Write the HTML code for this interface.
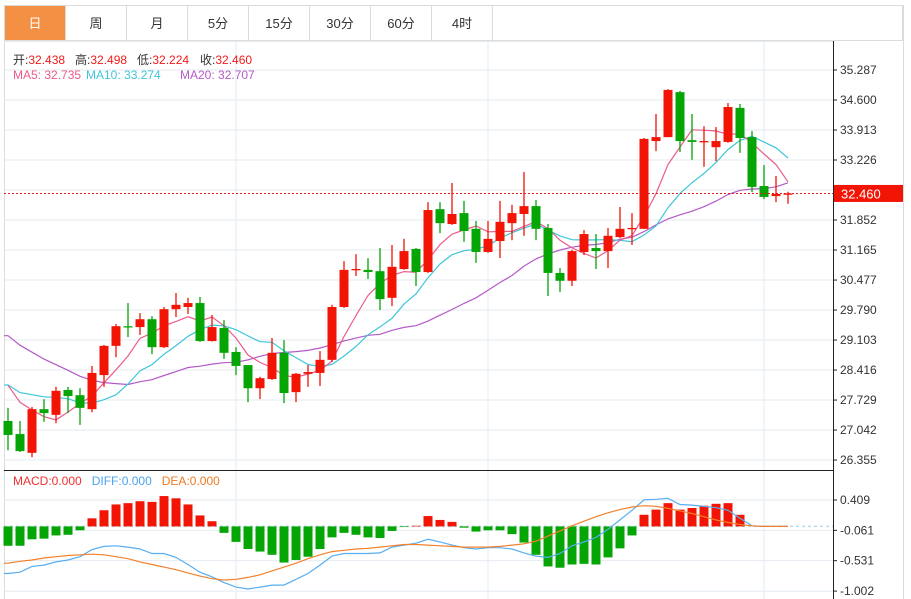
<!DOCTYPE html>
<html><head><meta charset="utf-8"><style>
html,body{margin:0;padding:0;background:#fff;width:911px;height:599px;overflow:hidden}
body{font-family:"Liberation Sans","Noto Sans CJK SC",sans-serif;position:relative}
.tabs{position:absolute;left:4px;top:5px;width:899px;height:36px;border:1px solid #dcdcdc;box-sizing:border-box;display:flex}
.tab{width:61px;height:34px;border-right:1px solid #dcdcdc;box-sizing:border-box;text-align:center;line-height:36px;font-size:13px;color:#333}
.tab.on{background:#f39043;color:#fff}
.info{position:absolute;font-size:12px;white-space:nowrap}
.r{color:#f01c1c}
</style></head><body>
<div class="tabs">
<div class="tab on">日</div>
<div class="tab">周</div>
<div class="tab">月</div>
<div class="tab">5分</div>
<div class="tab">15分</div>
<div class="tab">30分</div>
<div class="tab">60分</div>
<div class="tab">4时</div>
</div>
<svg id="c" width="911" height="599" style="position:absolute;left:0;top:0"></svg>
<div>
<div class="info" style="top:51px;left:13px;color:#333">开:<span class="r">32.438</span></div>
<div class="info" style="top:51px;left:75px;color:#333">高:<span class="r">32.498</span></div>
<div class="info" style="top:51px;left:137px;color:#333">低:<span class="r">32.224</span></div>
<div class="info" style="top:51px;left:200px;color:#333">收:<span class="r">32.460</span></div>
</div>
<div>
<div class="info" style="top:68px;left:13px;color:#ec5a8c">MA5: 32.735</div>
<div class="info" style="top:68px;left:86px;color:#3ec6da">MA10: 33.274</div>
<div class="info" style="top:68px;left:180px;color:#b45ac8">MA20: 32.707</div>
</div>
<div class="info" style="top:474px;left:13px;font-size:12px"><span style="color:#f03030">MACD:0.000</span>&nbsp;&nbsp;&nbsp;<span style="color:#4aa3f0">DIFF:0.000</span>&nbsp;&nbsp;&nbsp;<span style="color:#f07a20">DEA:0.000</span></div>
<script>
const opens=[27.25,26.95,26.52,27.52,27.39,27.96,27.84,27.52,28.30,28.97,29.42,29.40,29.58,28.94,29.81,29.86,29.95,29.08,29.38,28.83,28.53,28.00,28.21,28.81,27.91,28.33,28.35,28.65,29.86,30.71,30.71,30.68,30.07,30.73,31.19,30.66,32.10,31.76,32.01,31.65,31.12,31.37,31.78,31.99,32.17,31.67,30.64,30.46,31.12,31.21,31.14,31.46,31.65,31.65,33.66,33.75,34.78,33.68,33.64,33.52,33.64,34.42,33.75,32.63,32.40,32.438];
const highs=[27.55,27.25,27.57,27.75,28.03,28.03,28.00,28.51,28.99,29.47,29.95,29.72,29.65,29.86,30.18,30.07,30.09,29.68,29.56,28.94,28.53,28.26,29.15,29.10,28.35,28.53,28.85,29.91,30.91,31.07,30.98,31.21,31.28,31.42,31.21,32.26,32.26,32.70,32.29,31.83,31.83,32.29,32.20,32.95,32.31,31.76,30.75,31.17,31.62,31.53,31.67,32.15,32.01,33.73,34.28,34.85,34.81,34.28,34.00,33.98,34.53,34.51,33.89,33.11,32.86,32.498];
const lows=[26.58,26.54,26.42,27.23,27.20,27.43,27.16,27.45,28.03,28.71,29.17,29.22,28.78,28.92,29.63,29.70,29.06,29.07,28.67,28.30,27.68,27.75,28.19,27.66,27.68,28.03,28.05,28.60,29.84,30.57,30.50,29.79,29.88,30.71,30.34,30.64,31.55,31.74,31.35,30.87,31.10,30.98,31.39,31.49,31.39,30.11,30.20,30.34,31.05,30.73,30.75,31.44,31.28,31.65,33.43,33.75,33.41,33.23,33.07,33.20,33.62,33.39,32.49,32.33,32.26,32.224];
const closes=[26.93,26.56,27.52,27.43,27.94,27.82,27.55,28.35,28.97,29.42,29.40,29.58,28.94,29.81,29.91,29.95,29.08,29.40,28.81,28.51,28.00,28.23,28.81,27.89,28.33,28.37,28.65,29.86,30.71,30.73,30.66,30.04,30.78,31.14,30.66,32.08,31.78,31.99,31.60,31.12,31.42,31.81,32.01,32.17,31.65,30.64,30.46,31.14,31.53,31.14,31.49,31.65,31.67,33.71,33.75,34.83,33.66,33.64,33.66,33.66,34.44,33.73,32.61,32.38,32.45,32.460];
const prevCloses=[30.9,30.7,30.6,30.5,30.4,30.3,30.2,30.0,29.9,29.8,28.3,28.0,27.9,28.1,28.1,28.5,28.4,28.2,28.3];
const priceTicks=["35.287","34.600","33.913","33.226","32.539","31.852","31.165","30.477","29.790","29.103","28.416","27.729","27.042","26.355"];
const macdHist=[-0.30,-0.30,-0.20,-0.19,-0.14,-0.13,-0.06,0.125,0.25,0.34,0.36,0.39,0.38,0.47,0.435,0.34,0.17,0.08,-0.10,-0.24,-0.35,-0.39,-0.44,-0.56,-0.52,-0.47,-0.35,-0.17,-0.10,-0.13,-0.17,-0.18,-0.07,-0.01,0.01,0.16,0.10,0.07,-0.02,-0.08,-0.06,-0.06,-0.12,-0.25,-0.44,-0.62,-0.64,-0.59,-0.58,-0.59,-0.48,-0.34,-0.14,0.18,0.26,0.36,0.26,0.285,0.32,0.35,0.36,0.18,0,0,0,0];
const diffVals=[-0.73,-0.71,-0.62,-0.60,-0.55,-0.52,-0.47,-0.36,-0.31,-0.30,-0.32,-0.35,-0.42,-0.42,-0.48,-0.59,-0.71,-0.78,-0.87,-0.94,-0.97,-0.94,-0.91,-0.91,-0.82,-0.73,-0.60,-0.46,-0.42,-0.42,-0.42,-0.41,-0.32,-0.29,-0.26,-0.20,-0.24,-0.29,-0.33,-0.35,-0.33,-0.33,-0.35,-0.41,-0.46,-0.48,-0.42,-0.30,-0.24,-0.17,-0.045,0.10,0.25,0.41,0.42,0.435,0.34,0.33,0.31,0.29,0.25,0.125,0.01,0,0,0];
const deaVals=[-0.57,-0.54,-0.52,-0.49,-0.47,-0.45,-0.44,-0.43,-0.44,-0.47,-0.50,-0.55,-0.59,-0.63,-0.67,-0.72,-0.77,-0.81,-0.83,-0.82,-0.79,-0.75,-0.69,-0.63,-0.57,-0.50,-0.44,-0.39,-0.37,-0.35,-0.34,-0.32,-0.30,-0.28,-0.28,-0.29,-0.30,-0.31,-0.32,-0.32,-0.32,-0.31,-0.29,-0.27,-0.23,-0.15,-0.07,0.01,0.08,0.15,0.21,0.26,0.30,0.32,0.31,0.28,0.24,0.20,0.15,0.10,0.06,0.03,0.01,0,0,0];
const macdTicks=["0.409","-0.061","-0.531","-1.002"];
const macdTickVals=[0.409,-0.061,-0.531,-1.002];

const NS="http://www.w3.org/2000/svg",svg=document.getElementById('c');
const X0=8,DX=12,L=4,R=833;
const xAt=i=>X0+DX*i;
const yP=p=>70+(35.287-p)/0.0229;
const yM=v=>526.4-v/0.01549;
function mk(t,a,parent){const e=document.createElementNS(NS,t);for(const k in a)e.setAttribute(k,a[k]);(parent||svg).appendChild(e);return e;}
const grid=mk('g',{});


priceTicks.forEach(t=>{const y=yP(parseFloat(t));mk('line',{x1:L,x2:R,y1:y,y2:y,stroke:'#e4ebf1','stroke-width':1},grid);});
macdTickVals.forEach(v=>{const y=yM(v);mk('line',{x1:L,x2:R,y1:y,y2:y,stroke:'#e4ebf1','stroke-width':1},grid);});
mk('line',{x1:L,x2:R,y1:41.5,y2:41.5,stroke:'#e4ebf1'},grid);
[236,488,764].forEach(x=>mk('line',{x1:x,x2:x,y1:41,y2:599,stroke:'#e4ebf1'},grid));
mk('line',{x1:4.5,x2:4.5,y1:41,y2:599,stroke:'#dcdcdc'});
mk('line',{x1:903.5,x2:903.5,y1:5,y2:599,stroke:'#dcdcdc'});
mk('line',{x1:833.5,x2:833.5,y1:41,y2:599,stroke:'#222'});
mk('line',{x1:4,x2:833,y1:470.5,y2:470.5,stroke:'#222'});
priceTicks.forEach(t=>{const y=yP(parseFloat(t));
 mk('line',{x1:833,x2:837,y1:y,y2:y,stroke:'#222'});
 const tx=mk('text',{x:840,y:y+4,'font-size':12,fill:'#333','font-family':'Liberation Sans, sans-serif'});tx.textContent=t;
 
 
});
macdTicks.forEach((t,k)=>{const y=yM(macdTickVals[k]);
 mk('line',{x1:833,x2:837,y1:y,y2:y,stroke:'#222'});
 const tx=mk('text',{x:840,y:y+4,'font-size':12,fill:'#333','font-family':'Liberation Sans, sans-serif'});tx.textContent=t;
 
 
});
function ma(n,i){const all=prevCloses.concat(closes);const j=i+prevCloses.length;let s=0;for(let k=j-n+1;k<=j;k++)s+=all[k];return s/n;}
[[20,'#b45ac8','ma20-line'],[10,'#3ec6da','ma10-line'],[5,'#ec5a8c','ma5-line']].forEach(([n,c,nm])=>{
 let d='';closes.forEach((_,i)=>{d+=(i?'L':'M')+xAt(i)+','+yP(ma(n,i)).toFixed(1);});
 if(n>=10){d='M'+L+','+yP(ma(n,0)).toFixed(1)+d.replace('M','L');}
 const p=mk('path',{d:d,fill:'none',stroke:c,'stroke-width':1.2});
 
 
});
const cg=mk('g',{});
closes.forEach((c,i)=>{const o=opens[i],up=c>=o,col=up?'#f21405':'#05a505',x=xAt(i);
 const g=mk('g',{},cg);
 
 
 mk('line',{x1:x,x2:x,y1:yP(highs[i]),y2:yP(lows[i]),stroke:col,'stroke-width':1.3},g);
 const t=yP(Math.max(o,c)),b=yP(Math.min(o,c));
 mk('rect',{x:x-4.5,y:t,width:9,height:Math.max(1.3,b-t),fill:col},g);
});
const lp=yP(closes[closes.length-1]);
mk('line',{x1:L,x2:R,y1:lp,y2:lp,stroke:'#e02020','stroke-dasharray':'2,2','stroke-width':1});
const box=mk('rect',{x:834,y:lp-8.5,width:69,height:17,fill:'#f21405'});


const lt=mk('text',{x:841,y:lp+5,'font-size':13,fill:'#fff','font-family':'Liberation Sans, sans-serif'});lt.textContent='32.460';


const z=yM(0);
mk('line',{x1:L,x2:R,y1:z,y2:z,stroke:'#b8dbea','stroke-dasharray':'3,3','stroke-width':1.5});
macdHist.forEach((v,i)=>{if(v===0)return;const y=yM(v);
 const r=mk('rect',{x:xAt(i)-4.5,y:Math.min(y,z),width:9,height:Math.abs(y-z),fill:v>0?'#f21405':'#05a505'});
 
 
});
[[diffVals,'#58aef2','diff-line'],[deaVals,'#f3802a','dea-line']].forEach(([arr,c,nm])=>{
 let d='M'+L+','+yM(arr[0]).toFixed(1);arr.forEach((v,i)=>{d+='L'+xAt(i)+','+yM(v).toFixed(1);});
 const p=mk('path',{d:d,fill:'none',stroke:c,'stroke-width':1.2});
 
 
});
</script>
</body></html>
